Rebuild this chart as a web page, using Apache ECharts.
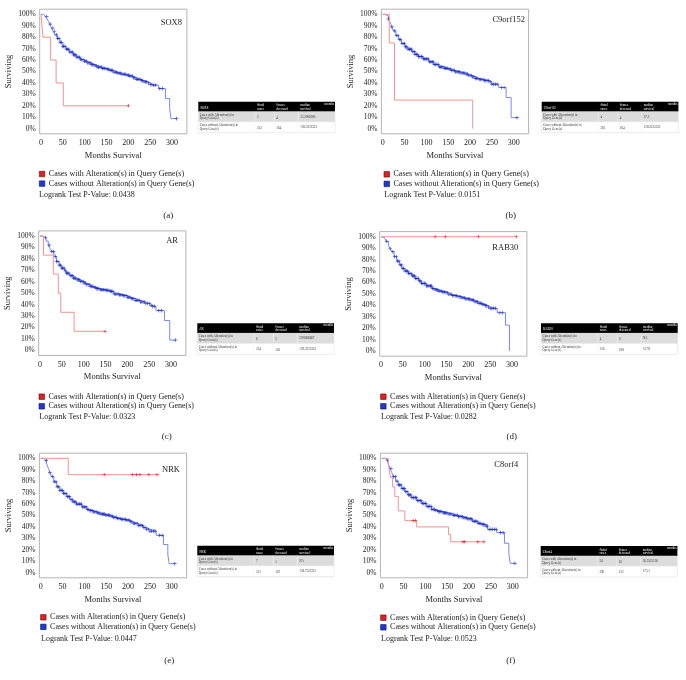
<!DOCTYPE html>
<html><head><meta charset="utf-8">
<script src="https://cdn.jsdelivr.net/npm/echarts@6/dist/echarts.min.js"></script>
<style>html,body{margin:0;padding:0;background:#fff}#c{width:686px;height:680px}</style>
</head><body><div id="c"></div>
<script>
// ---------------- DATA ----------------
const panelLetters = ['(a)','(b)','(c)','(d)','(e)','(f)'];
const genes = ['SOX8','C9orf152','AR','RAB30','NRK','C8orf4'];
const pValues = ['0.0438','0.0151','0.0323','0.0282','0.0447','0.0523'];
const xTicks = [0,50,100,150,200,250,300];
const yTicks = [0,10,20,30,40,50,60,70,80,90,100];
const seriesNames = ['Cases with Alteration(s) in Query Gene(s)','Cases without Alteration(s) in Query Gene(s)'];

// Kaplan-Meier step events [month, surviving %] for cases WITH alteration
const redA = [[0,100],[4.5,80],[22,60],[34.5,40],[51,20],[200,20]];
const redB = [[0,100],[15,75],[27,25],[206,0]];
const redC = [[0,100],[8,83.3],[30.5,66.7],[42,50],[47.5,33.3],[78,16.7],[149,16.7]];
const redD = [[0,100],[310,100]];
const redE = [[0,100],[63,85.7],[266.5,85.7]];
const redF = [[0,100],[15,95.8],[18,87.5],[20,83.3],[25,75],[30,66.7],[38,54],[53,45.5],[80,40],[153,33.5],[158,27],[234,27]];
// censored months for cases WITH alteration
const redCensA = [200];
const redCensB = [];
const redCensC = [149];
const redCensD = [124,147,223,310];
const redCensE = [145.5,210,219,227,247.5,266.5];
const redCensF = [72,77,186,190,220,234];

// Kaplan-Meier step events for cases WITHOUT alteration
const blueA = [[0,100],[6,99],[10,98],[14,96],[17,94],[20,91.5],[24,88],[28,85],[32,82],[37,79],[43,75.5],[50,72],[57,69.5],[65,67],[74,64.5],[82,62.5],[90,60.5],[98,59],[106,57.5],[114,56],[122,55],[130,53.8],[140,52.6],[150,52],[158,51],[166,49.4],[175,48.5],[185,47.6],[195,46.8],[202,46],[210,44.5],[218,43.2],[228,42],[236,41],[243,40],[250,38.5],[256,38],[269,35],[285,26.3],[294.5,17.5],[297.5,8.8],[310,8.8]];
const blueB = [[0,100],[5,99],[9,98.5],[13,96],[17,93],[21,89],[24.5,85.5],[30,81.5],[36,78],[43,74.5],[51,71.5],[58,69.5],[66.5,67.3],[74,65],[82,63],[92,61],[105,58.5],[116,56.2],[128,54],[140,52.8],[151,52],[158,51],[166,49.7],[177,48.7],[189,47.7],[197,46.5],[204,45.3],[212,44],[220,43],[232,42],[243,41],[250,38.9],[265.5,36],[282.5,27.2],[294,9.6],[307.6,9.6]];
const blueC = [[0,100],[5,99.2],[9,98.5],[14,95.5],[19,92],[23,89],[27,86.4],[32,82],[38,77.7],[44,74.5],[50,71.9],[56,69.5],[61,67.5],[68,65.3],[76.5,63.2],[84,61.7],[92,60.3],[100,58.8],[107,57.4],[115,56],[122,55],[130,54],[138,53],[150,52.5],[161,51.6],[168,49.3],[180,48.5],[191,47.8],[200,46.5],[207,45.2],[218,43.8],[229.5,42.3],[240,41],[252.5,39.4],[258,38.5],[265.5,34.8],[285,26.1],[297,9],[310,9]];
const blueD = [[0,100],[4,99.3],[7.7,98.5],[12,96],[17,92.7],[21,89.5],[24.5,86.9],[30,82.5],[36,78.7],[42,75.3],[47.4,72.3],[55,70],[63,67.9],[70,65.8],[78,63.6],[86,61.3],[93,59.2],[104,57],[116,54.8],[124,53.6],[131.6,52.5],[139,51.7],[146.9,51],[155,49.7],[162,48.4],[174,47.5],[185,46.6],[194,45.6],[204,44.6],[214,43.1],[223,41.7],[231,40.7],[239,39.7],[245,38.5],[250,37.3],[266,33.5],[285,22.7],[294,0]];
const blueE = [[0,100],[5,99.2],[10,98],[14,95],[17.5,91.2],[21,87.5],[25,84],[30,79.5],[36.6,75.1],[44,72],[51.8,69.3],[59,66.5],[67,64],[74,62],[82,60],[94,57.5],[105,55.3],[112,54.2],[120,53.2],[128,52.2],[135.6,51.2],[147,50.3],[158.4,49.4],[166,48.4],[173.6,47.4],[185,46.6],[196.5,45.9],[204,44.5],[211.7,43],[223,41.3],[234.6,39.5],[242,38],[249.8,36.3],[264.3,32.7],[281,24.6],[291,15.8],[294,7.9],[307,7.9]];
const blueF = [[0,100],[6,99.3],[11.4,98.5],[15,95],[19,91.3],[23,87.5],[26.6,84],[32,80],[38,76.7],[45,73.5],[53,70.8],[60,68],[68,65.6],[80,63],[91,60.6],[102,58],[114,55.4],[122,54.4],[129,53.4],[140,52.3],[152,51.3],[163,50.2],[175,49],[186,48],[197,47],[208,45],[220,43.2],[230,42],[239,40.8],[243,37.9],[263.5,35],[281,25.7],[291,16.9],[294,8.2],[305,8.2]];
// censored months for cases WITHOUT alteration (same cohort in all panels)
const blueCensMonths = [13,21,27,31,35,38,41,44,47,50,52,55,58,61,63,66,69,72,74,77,79,82,85,88,90,93,96,99,101,104,107,110,113,115,118,121,124,127,130,132,135,138,141,144,146,149,152,155,158,161,164,167,170,173,176,179,182,185,188,191,194,197,200,203,206,209,212,215,218,221,224,227,230,233,236,239,242,246,250,254,258,262,272,278];
const blueEndCensor = [310,307.6,310,null,307,305];

// table values
const tableHead = ['#total cases','#cases deceased','median survival','months'];
const totals = [[5,313],[4,316],[6,314],[4,316],[7,313],[24,296]];
const deceased = [[4,164],[4,164],[5,163],[0,168],[1,167],[16,152]];
const medians = [['35.2000000','138.2333333'],['27.3','138.2333333'],['39.8666667','139.2333333'],['NA','137.8'],['NA','138.7333333'],['56.5555556','175.1']];

// ---------------- LAYOUT (positions only) ----------------
const layout = [
  {grid:[39.7,9.2],  leg:[39,174],     lr:[39,195],     let:[168.3,216],  gene:[182,22.7],  tab:[198.3,101.7]},
  {grid:[381.4,9.2], leg:[383.7,174.3],lr:[384.3,195],  let:[510.7,216],  gene:[525,19.3],  tab:[541.7,101.7]},
  {grid:[38.7,230.9],leg:[38.7,396.7], lr:[39.3,417.3], let:[166.7,436.7],gene:[178,241],   tab:[197.3,323.3]},
  {grid:[379.7,231.6],leg:[380.3,396.7],lr:[381,417.3], let:[511.7,436.7],gene:[518.3,247.7],tab:[541,323.3]},
  {grid:[39.4,453.2],leg:[40.3,617.3], lr:[41,639.3],   let:[169.3,660.7],gene:[180,469.3], tab:[197.3,545.7]},
  {grid:[380.4,453.2],leg:[380.3,617.7],lr:[381,639],   let:[510.7,660.7],gene:[518.3,465], tab:[540.7,546]}
];
const X_MIN=-3, X_MAX=334, Y_MIN=-4.5, Y_MAX=104.5;
const GRID_W=147.2, GRID_H=124.6;
const FONT='Liberation Serif';
const RED_LINE='#f29393', RED_MARK='#d42020', BLUE_LINE='#7a89ee', BLUE_MARK='#1428c0';
const PLUS='path://M4,0H6V4H10V6H6V10H4V6H0V4H4Z';

const reds=[redA,redB,redC,redD,redE,redF];
const redCens=[redCensA,redCensB,redCensC,redCensD,redCensE,redCensF];
const blues=[blueA,blueB,blueC,blueD,blueE,blueF];

function stepAt(curve,t){ let v=curve[0][1]; for(const p of curve){ if(p[0]<=t) v=p[1]; } return v; }
function censorPoints(curve,months){
  const last=curve[curve.length-1][0];
  return months.filter(m=>m!=null && m<=last).map(m=>[m,stepAt(curve,m)]);
}

const grids=[],xAxes=[],yAxes=[],series=[],legends=[],graphics=[];
layout.forEach((L,i)=>{
  grids.push({left:L.grid[0],top:L.grid[1],width:GRID_W,height:GRID_H,show:true,borderColor:'#b4b4b4',borderWidth:1,backgroundColor:'#fff'});
  xAxes.push({type:'value',gridIndex:i,min:X_MIN,max:X_MAX,
    axisLine:{show:false},axisTick:{show:false},splitLine:{show:false},
    axisLabel:{customValues:xTicks,fontSize:8,fontFamily:FONT,color:'#222',margin:5},
    name:'Months Survival',nameLocation:'middle',nameGap:17,nameTextStyle:{fontSize:8.5,fontFamily:FONT,color:'#222'}});
  yAxes.push({type:'value',gridIndex:i,min:Y_MIN,max:Y_MAX,
    axisLine:{show:false},axisTick:{show:false},splitLine:{show:false},
    axisLabel:{customValues:yTicks,formatter:'{value}%',fontSize:7.5,fontFamily:FONT,color:'#222',margin:4},
    name:'Surviving',nameLocation:'middle',nameGap:26,nameTextStyle:{fontSize:8.5,fontFamily:FONT,color:'#222'}});
  series.push({type:'line',name:seriesNames[1],xAxisIndex:i,yAxisIndex:i,data:blues[i],step:'end',showSymbol:false,silent:true,
    lineStyle:{color:BLUE_LINE,width:1},itemStyle:{color:BLUE_MARK},z:2});
  series.push({type:'scatter',name:'blue-censored',xAxisIndex:i,yAxisIndex:i,
    data:censorPoints(blues[i],blueCensMonths.concat([blueEndCensor[i]])),symbol:PLUS,symbolSize:3.6,silent:true,itemStyle:{color:BLUE_MARK},z:3});
  series.push({type:'line',name:seriesNames[0],xAxisIndex:i,yAxisIndex:i,data:reds[i],step:'end',showSymbol:false,silent:true,
    lineStyle:{color:RED_LINE,width:1},itemStyle:{color:RED_MARK},z:4});
  series.push({type:'scatter',name:'red-censored',xAxisIndex:i,yAxisIndex:i,
    data:censorPoints(reds[i],redCens[i]),symbol:PLUS,symbolSize:3.6,silent:true,itemStyle:{color:RED_MARK},z:5});
  legends.push({orient:'vertical',left:L.leg[0],top:L.leg[1]-4.8,padding:0,itemGap:0,itemWidth:5.5,itemHeight:5.5,
    icon:'rect',selectedMode:false,
    textStyle:{fontSize:8,fontFamily:FONT,color:'#222',lineHeight:9.6,padding:[0,0,0,-1]},
    data:[{name:seriesNames[0],itemStyle:{color:'#dd2222',borderColor:'#6a0a0a',borderWidth:0.6}},
          {name:seriesNames[1],itemStyle:{color:'#2038d8',borderColor:'#0a1460',borderWidth:0.6}}]});
  graphics.push({type:'text',x:L.lr[0],y:L.lr[1],style:{text:'Logrank Test P-Value: '+pValues[i],font:'8px '+FONT,fill:'#222',textVerticalAlign:'middle'}});
  graphics.push({type:'text',x:L.let[0],y:L.let[1],style:{text:panelLetters[i],font:'9px '+FONT,fill:'#222',textAlign:'center',textVerticalAlign:'middle'}});
  graphics.push({type:'text',x:L.gene[0],y:L.gene[1],z:10,style:{text:genes[i],font:'8.5px '+FONT,fill:'#222',textAlign:'right',textVerticalAlign:'middle'}});
  // summary table
  const [tx,ty]=L.tab, W=136.7, hH=10, r1=10, r2=11, cx=[56.7,76,100];
  const fs='3.2px '+FONT;
  graphics.push({type:'rect',shape:{x:tx,y:ty,width:W,height:hH},style:{fill:'#000'}});
  graphics.push({type:'rect',shape:{x:tx,y:ty+hH,width:W,height:r1},style:{fill:'#dcdcdc',stroke:'#e8e8e8',lineWidth:0.5}});
  graphics.push({type:'rect',shape:{x:tx,y:ty+hH+r1,width:W,height:r2},style:{fill:'#fff',stroke:'#d8d8d8',lineWidth:0.5}});
  cx.forEach(c=>graphics.push({type:'line',shape:{x1:tx+c,y1:ty+hH,x2:tx+c,y2:ty+hH+r1+r2},style:{stroke:'#f4f4f4',lineWidth:0.6}}));
  graphics.push({type:'text',x:tx+2,y:ty+hH/2+1,style:{text:genes[i],font:fs,fill:'#fff',textVerticalAlign:'middle'}});
  [0,1,2].forEach(k=>{
    const parts=tableHead[k].split(' ');
    graphics.push({type:'text',x:tx+cx[k]+2,y:ty+hH/2+0.5,style:{text:parts[0]+'\n'+parts[1],font:fs,fill:'#fff',textVerticalAlign:'middle',lineHeight:3.6}});
  });
  graphics.push({type:'text',x:tx+W-1,y:ty+2.2,style:{text:tableHead[3],font:fs,fill:'#fff',textAlign:'right',textVerticalAlign:'middle'}});
  [0,1].forEach(r=>{
    const yy= r===0? ty+hH+r1/2 : ty+hH+r1+r2/2;
    const lbl=seriesNames[r].replace(' Query','\nQuery');
    graphics.push({type:'text',x:tx+1.5,y:yy,style:{text:lbl,font:fs,fill:'#333',textVerticalAlign:'middle',lineHeight:3.6}});
    graphics.push({type:'text',x:tx+cx[0]+2,y:yy+0.6,style:{text:String(totals[i][r]),font:fs,fill:'#333',textVerticalAlign:'middle'}});
    graphics.push({type:'text',x:tx+cx[1]+2,y:yy+1,style:{text:String(deceased[i][r]),font:fs,fill:'#333',textVerticalAlign:'middle'}});
    graphics.push({type:'text',x:tx+cx[2]+2,y:yy,style:{text:medians[i][r],font:fs,fill:'#333',textVerticalAlign:'middle'}});
  });
});

const chart=echarts.init(document.getElementById('c'),null,{renderer:'canvas'});
chart.setOption({backgroundColor:'#fff',animation:false,grid:grids,xAxis:xAxes,yAxis:yAxes,series:series,legend:legends,graphic:graphics});
</script></body></html>
